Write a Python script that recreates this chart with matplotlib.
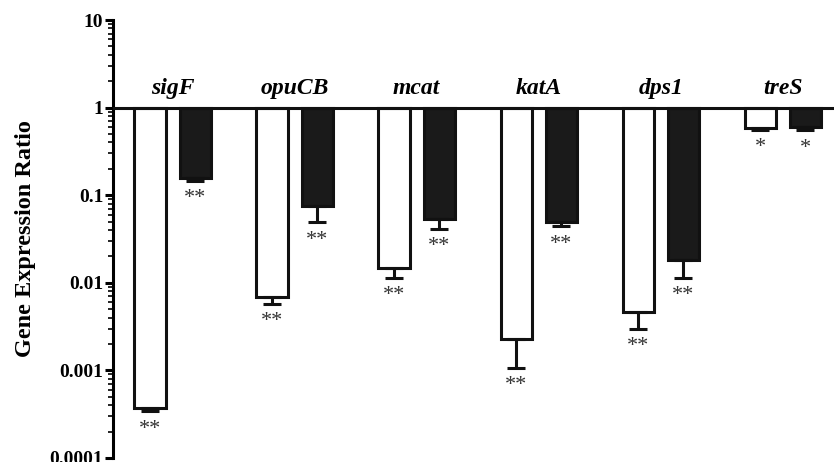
import numpy as np
import matplotlib.pyplot as plt

plt.rcParams['font.family'] = ['Liberation Serif', 'DejaVu Serif']

genes = ['sigF', 'opuCB', 'mcat', 'katA', 'dps1', 'treS']
white_vals = [0.00037, 0.0069, 0.0148, 0.0023, 0.0047, 0.59]
white_low = [0.00034, 0.0058, 0.0114, 0.00107, 0.0030, 0.56]
black_vals = [0.158, 0.076, 0.054, 0.050, 0.018, 0.60]
black_low = [0.147, 0.049, 0.041, 0.044, 0.0114, 0.55]
white_stars = ['**', '**', '**', '**', '**', '*']
black_stars = ['**', '**', '**', '**', '**', '*']

fig = plt.figure(figsize=(8.34, 4.62), dpi=100)
ax = fig.add_axes([0.1355, 0.0087, 0.8645, 0.948])
ax.set_yscale('log')

x = np.arange(len(genes))
off = 0.185
w = 0.255
lw = 2.2

def draw(xs, vals, lows, color, stars):
    vals = np.array(vals)
    lows = np.array(lows)
    ax.bar(xs, vals - 1, bottom=1, width=w, color=color, edgecolor='#111111',
           linewidth=lw, zorder=2)
    ax.errorbar(xs, vals, yerr=[vals - lows, np.zeros_like(vals)], fmt='none',
                ecolor='#111111', elinewidth=lw, capsize=6.5, capthick=lw, zorder=3)
    for xi, lo, s in zip(xs, lows, stars):
        ax.annotate(s, (xi, lo), xytext=(0, -6), textcoords='offset points',
                    ha='center', va='top', fontsize=16, color='#333333')

draw(x - off, white_vals, white_low, 'white', white_stars)
draw(x + off, black_vals, black_low, '#1a1a1a', black_stars)

for xi, g in zip(x, genes):
    ax.annotate(g, (xi, 1), xytext=(0, 6), textcoords='offset points',
                ha='center', va='bottom', fontsize=17, fontweight='bold',
                fontstyle='italic')

ax.axhline(1, color='#111111', linewidth=lw, zorder=4)

ax.set_xlim(-0.488, 5.42)
ax.set_ylim(0.0001, 10)
ax.set_yticks([0.0001, 0.001, 0.01, 0.1, 1, 10])
ax.set_yticklabels(['0.0001', '0.001', '0.01', '0.1', '1', '10'])
ax.set_xticks([])
for s in ['top', 'right', 'bottom']:
    ax.spines[s].set_visible(False)
ax.spines['left'].set_linewidth(lw)
ax.tick_params(axis='y', which='major', length=6, width=lw, labelsize=14, pad=1)
ax.tick_params(axis='y', which='minor', length=3.5, width=1.2)
for t in ax.get_yticklabels():
    t.set_fontweight('bold')
ax.set_ylabel('Gene Expression Ratio', fontsize=17.5, fontweight='bold', labelpad=10)

fig.savefig('out.png', dpi=100)
